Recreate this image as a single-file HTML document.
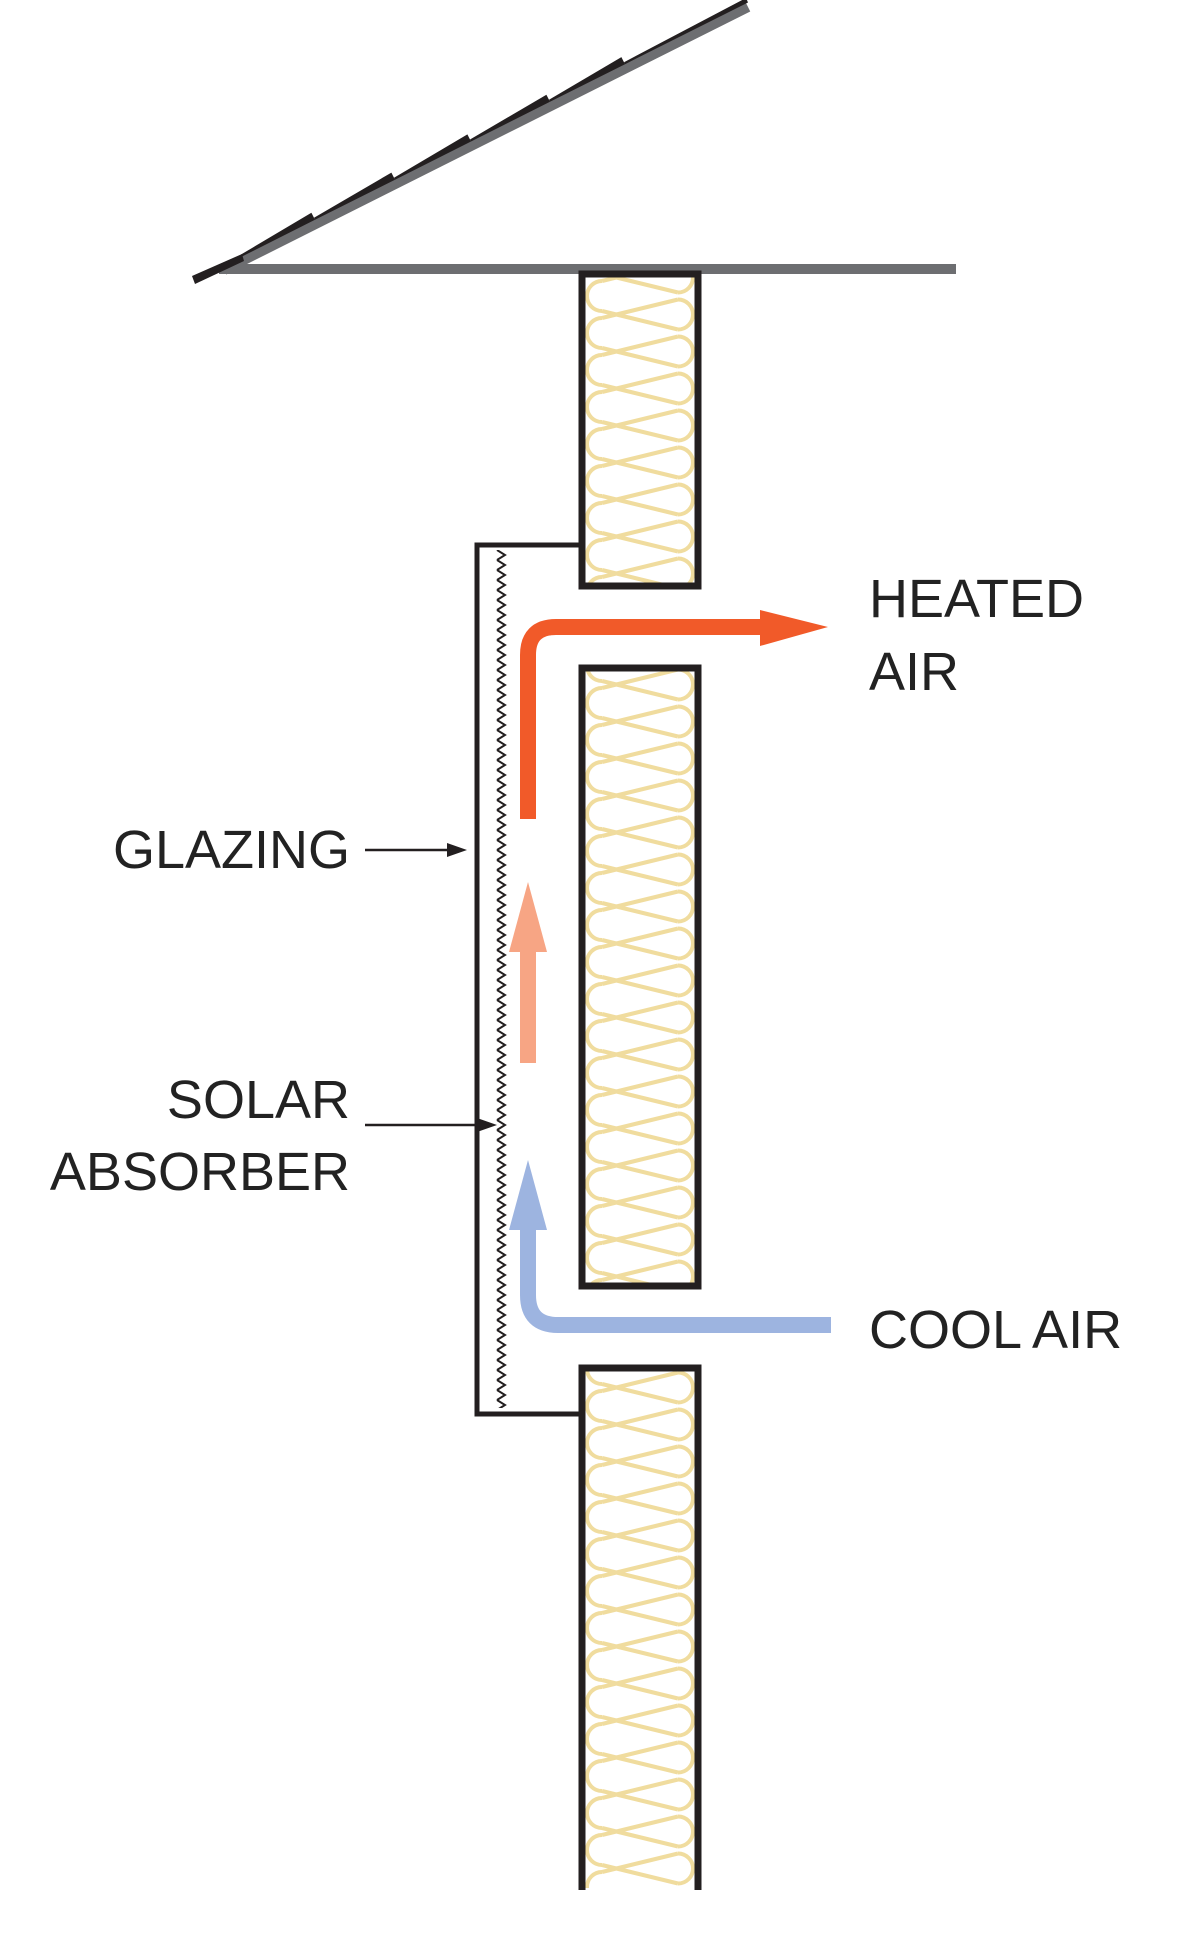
<!DOCTYPE html>
<html><head><meta charset="utf-8"><style>
html,body{margin:0;padding:0;background:#fff;}
svg{display:block}
text{font-family:"Liberation Sans",sans-serif;fill:#222;font-size:54px}
</style></head><body>
<svg width="1200" height="1960" viewBox="0 0 1200 1960" xmlns="http://www.w3.org/2000/svg">
<defs>
<pattern id="ins" patternUnits="userSpaceOnUse" x="0" y="0" width="1200" height="37">
<g fill="none" stroke="#f0dc9e" stroke-width="4">
<path d="M602,-15 A15,15 0 0 0 602,15 M602,22 A15,15 0 0 0 602,52"/>
<path d="M678,3.5 A15,15 0 0 1 678,33.5 M678,-33.5 A15,15 0 0 1 678,-3.5"/>
<path d="M602,15 L678,33.5 M678,3.5 L602,22 M602,-22 L678,-3.5 M678,-33.5 L602,-15 M602,52 L678,70.5"/>
</g>
</pattern>
<pattern id="zzp" patternUnits="userSpaceOnUse" x="0" y="550" width="1200" height="10">
<path d="M497,0 L505,5 L497,10" fill="none" stroke="#231f20" stroke-width="2"/>
</pattern>
</defs>
<!-- roof -->
<line x1="219" y1="269" x2="956" y2="269" stroke="#6d6e71" stroke-width="10"/>
<line x1="224" y1="270" x2="748" y2="7" stroke="#6d6e71" stroke-width="10"/>
<g fill="#231f20">
<polygon points="192,276 242,254 244,261 195,284"/>
<polygon points="242,256.5 315,219.8 311.4,212.7 241,254.5"/>
<polygon points="315,219.8 395,179.7 391.4,172.6 314,217.8"/>
<polygon points="395,179.7 471,141.5 467.4,134.4 394,177.7"/>
<polygon points="471,141.5 550,101.8 546.4,94.7 470,139.5"/>
<polygon points="550,101.8 625,64.2 621.4,57.1 549,99.8"/>
<polygon points="625,64.2 748,2.5 746,-2 624,62.2"/>
</g>
<!-- wall blocks -->
<rect x="582" y="274" width="116" height="312" fill="url(#ins)" stroke="#231f20" stroke-width="7"/>
<rect x="582" y="668" width="116" height="618" fill="url(#ins)" stroke="#231f20" stroke-width="7"/>
<rect x="582" y="1368" width="116" height="520" fill="url(#ins)"/>
<path d="M582,1890 L582,1368 L698,1368 L698,1890" fill="none" stroke="#231f20" stroke-width="7"/>
<!-- glazing box -->
<path d="M582,545 L477,545 L477,1414 L582,1414" fill="none" stroke="#231f20" stroke-width="5"/>
<!-- zigzag absorber -->
<rect x="494" y="550" width="14" height="858" fill="url(#zzp)"/>
<!-- red arrow -->
<path d="M528,819 L528,655 Q528,627 556,627 L768,627" fill="none" stroke="#f15a29" stroke-width="16"/>
<polygon points="760,610 828,627 760,646" fill="#f15a29"/>
<!-- salmon arrow -->
<rect x="520" y="950" width="16" height="113" fill="#f7a584"/>
<polygon points="509,952 528,882 547,952" fill="#f7a584"/>
<!-- blue arrow -->
<path d="M528,1228 L528,1295 Q528,1325 558,1325 L831,1325" fill="none" stroke="#9db4e0" stroke-width="16"/>
<polygon points="509,1230 528,1160 547,1230" fill="#9db4e0"/>
<!-- pointers -->
<line x1="365" y1="850" x2="455" y2="850" stroke="#231f20" stroke-width="2.5"/>
<polygon points="447,843 467,850 447,857" fill="#231f20"/>
<line x1="365" y1="1125" x2="485" y2="1125" stroke="#231f20" stroke-width="2.5"/>
<polygon points="477,1118 497,1125 477,1132" fill="#231f20"/>
<!-- labels -->
<text x="869" y="617">HEATED</text>
<text x="869" y="690">AIR</text>
<text x="350" y="868" text-anchor="end">GLAZING</text>
<text x="350" y="1118" text-anchor="end">SOLAR</text>
<text x="350" y="1190" text-anchor="end">ABSORBER</text>
<text x="869" y="1348">COOL AIR</text>
</svg>
</body></html>
